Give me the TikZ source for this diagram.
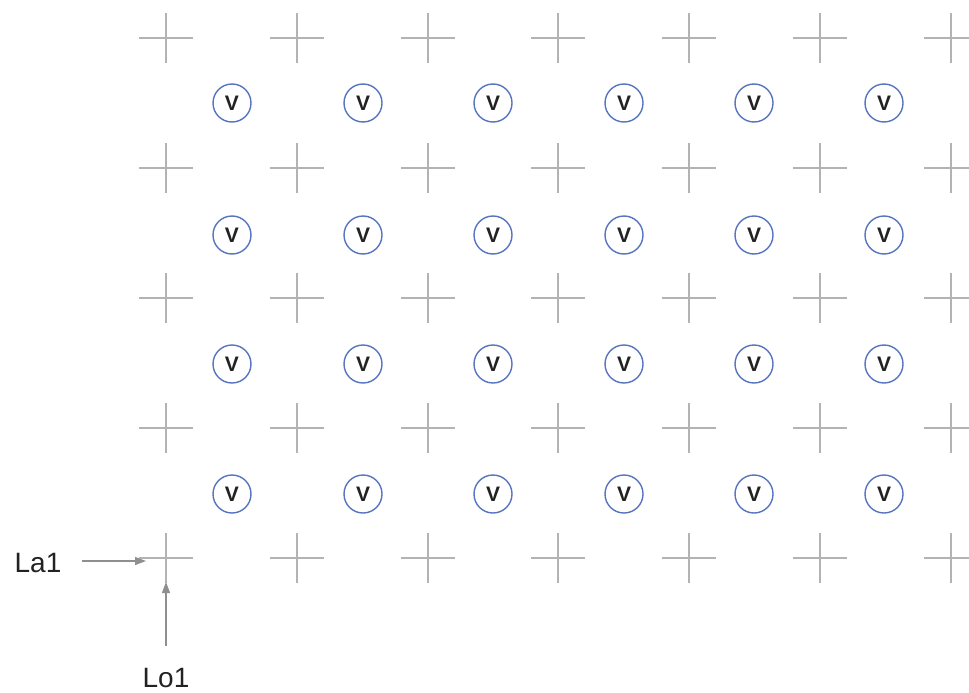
\documentclass[tikz,border=0pt]{standalone}
\usepackage{fontspec}
\setmainfont{Liberation Sans}
\usetikzlibrary{arrows.meta}
\definecolor{crossgray}{HTML}{B3B3B3}
\definecolor{ringblue}{HTML}{5573BF}
\definecolor{arrowgray}{HTML}{8F8F8F}
\definecolor{txt}{HTML}{222222}
\begin{document}
\begin{tikzpicture}[x=1pt,y=-1pt,
  crossline/.style={draw=crossgray,line width=1.3pt},
  vring/.style={circle,draw=ringblue,line width=1.4pt,minimum size=38pt,inner sep=0pt,
    font=\fontsize{21}{21}\selectfont\bfseries,text=txt},
  lbl/.style={font=\fontsize{28}{28}\selectfont,text=txt,inner sep=0pt},
  pointer/.style={draw=arrowgray,line width=1.2pt,-{Triangle[length=11pt,width=8pt]}}]
\useasboundingbox (0,0) rectangle (969,693);
% crosses
\foreach \i/\x in {1/166,2/297,3/428,4/558,5/689,6/820,7/951}{
  \foreach \j/\y in {1/38,2/168,3/298,4/428,5/558}{
    \coordinate (c\i-\j) at (\x,\y);
    \draw[crossline] ([xshift=-27pt]c\i-\j) -- ([xshift=27pt]c\i-\j);
    \draw[crossline] ([yshift=-25pt]c\i-\j) -- ([yshift=25pt]c\i-\j);
  }
}
% V circles
\foreach \i/\x in {1/232,2/363,3/493,4/624,5/754,6/884}{
  \foreach \j/\y in {1/103,2/235,3/364,4/494}{
    \node[vring] (v\i-\j) at (\x,\y) {V};
  }
}
% labels and pointers
\node[lbl] (la1) at (38,563) {La1};
\node[lbl] (lo1) at (166,678) {Lo1};
\coordinate (latip) at (146,561);
\coordinate (lotip) at (166,582);
\coordinate (lastart) at (82,561);
\coordinate (lostart) at (166,646);
\draw[pointer] (lastart) -- (latip);
\draw[pointer] (lostart) -- (lotip);
\end{tikzpicture}
\end{document}
